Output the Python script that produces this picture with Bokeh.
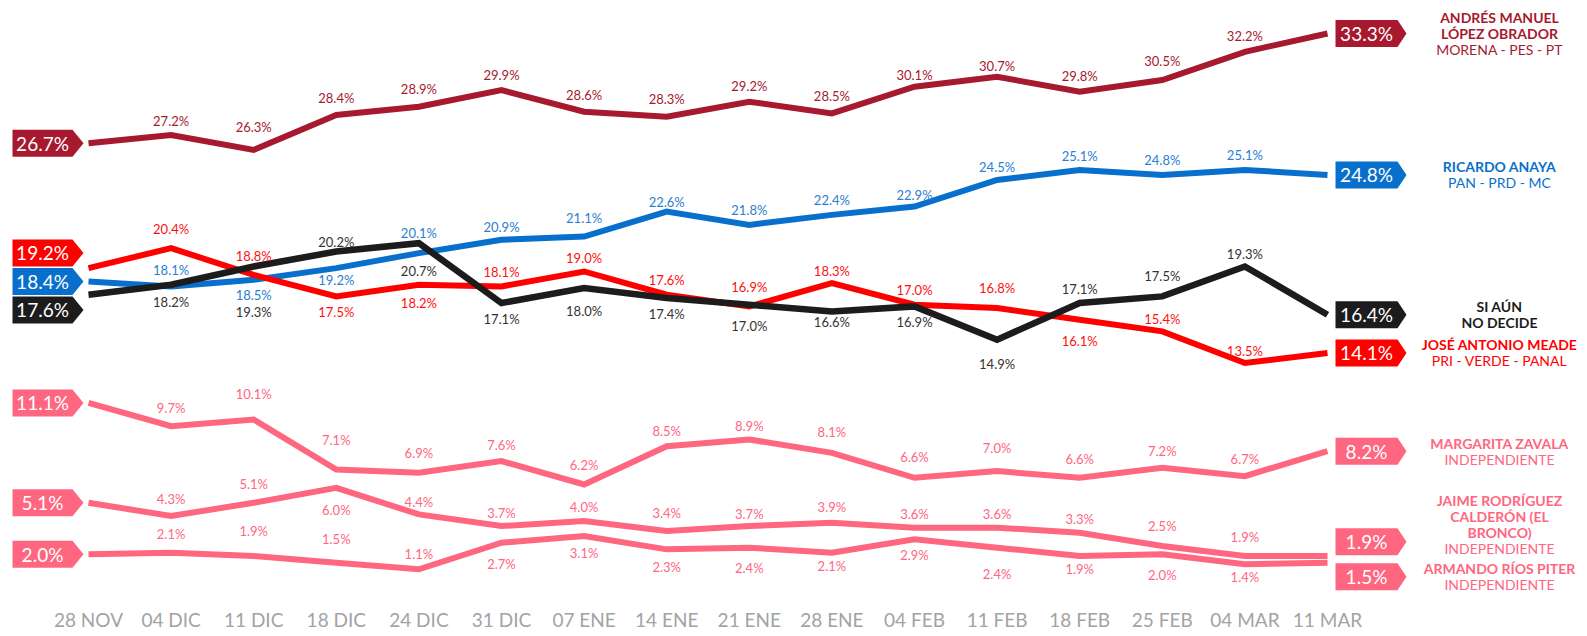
from bokeh.plotting import figure
from bokeh.models import Range1d
from bokeh.core.properties import value
from bokeh.embed import file_html
from bokeh.resources import INLINE

# ---------------- data ----------------
dates = ["28 NOV", "04 DIC", "11 DIC", "18 DIC", "24 DIC", "31 DIC", "07 ENE", "14 ENE",
         "21 ENE", "28 ENE", "04 FEB", "11 FEB", "18 FEB", "25 FEB", "04 MAR", "11 MAR"]
amlo = [26.7, 27.2, 26.3, 28.4, 28.9, 29.9, 28.6, 28.3, 29.2, 28.5, 30.1, 30.7, 29.8, 30.5, 32.2, 33.3]
anaya = [18.4, 18.1, 18.5, 19.2, 20.1, 20.9, 21.1, 22.6, 21.8, 22.4, 22.9, 24.5, 25.1, 24.8, 25.1, 24.8]
meade = [19.2, 20.4, 18.8, 17.5, 18.2, 18.1, 19.0, 17.6, 16.9, 18.3, 17.0, 16.8, 16.1, 15.4, 13.5, 14.1]
no_decide = [17.6, 18.2, 19.3, 20.2, 20.7, 17.1, 18.0, 17.4, 17.0, 16.6, 16.9, 14.9, 17.1, 17.5, 19.3, 16.4]
zavala = [11.1, 9.7, 10.1, 7.1, 6.9, 7.6, 6.2, 8.5, 8.9, 8.1, 6.6, 7.0, 6.6, 7.2, 6.7, 8.2]
bronco = [5.1, 4.3, 5.1, 6.0, 4.4, 3.7, 4.0, 3.4, 3.7, 3.9, 3.6, 3.6, 3.3, 2.5, 1.9, 1.9]
rios = [2.0, 2.1, 1.9, 1.5, 1.1, 2.7, 3.1, 2.3, 2.4, 2.1, 2.9, 2.4, 1.9, 2.0, 1.4, 1.5]

names = {
    "amlo": ["ANDRÉS MANUEL", "LÓPEZ OBRADOR"],
    "anaya": ["RICARDO ANAYA"],
    "nd": ["SI AÚN", "NO DECIDE"],
    "meade": ["JOSÉ ANTONIO MEADE"],
    "zavala": ["MARGARITA ZAVALA"],
    "bronco": ["JAIME RODRÍGUEZ", "CALDERÓN (EL", "BRONCO)"],
    "rios": ["ARMANDO RÍOS PITER"],
}
parties = {
    "amlo": "MORENA - PES - PT",
    "anaya": "PAN - PRD - MC",
    "nd": "",
    "meade": "PRI - VERDE - PANAL",
    "zavala": "INDEPENDIENTE",
    "bronco": "INDEPENDIENTE",
    "rios": "INDEPENDIENTE",
}

# ---------------- styles ----------------
PINK = "#ff6680"
styles = {
    "amlo": dict(color="#a6192e", label="#a6192e"),
    "anaya": dict(color="#0870cc", label="#2a80d2"),
    "meade": dict(color="#ff0000", label="#ff1010"),
    "nd": dict(color="#1c1c1c", label="#333333"),
    "zavala": dict(color=PINK, label=PINK),
    "bronco": dict(color=PINK, label=PINK),
    "rios": dict(color=PINK, label=PINK),
}
# label offsets in px (positive = above the line), for points 1..14
offsets = {
    "amlo": [14, 23, 17, 18, 15, 17, 18, 16, 17, 12, 11, 16, 19, 16],
    "anaya": [16, -15, -12, 20, 13, 19, 10, 15, 15, 12, 13, 14, 15, 15],
    "meade": [19, 19, -16, -18, 14, 13, 15, 19, 12, 15, 20, -21, 12, 12],
    "nd": [-17, -46, 9, -28, -16, -23, -16, -21, -11, -16, -24, 14, 20, 12],
    "zavala": [18, 26, 29, 20, 16, 19, 15, 14, 21, 21, 23, 19, 17, 17],
    "bronco": [17, 19, -22, 12, 13, 14, 18, 12, 16, 14, 14, 14, 20, 19],
    "rios": [19, 25, 24, 15, -21, -17, -18, -20, -13, -16, -26, -13, -21, -13],
}
series = {"amlo": amlo, "anaya": anaya, "meade": meade, "nd": no_decide,
          "zavala": zavala, "bronco": bronco, "rios": rios}
draw_order = ["rios", "bronco", "zavala", "anaya", "meade", "nd", "amlo"]

W, H = 1587, 636
KX = 82.6                       # px per week step
KY = 16.64                      # px per percentage point
X0 = -88 / KX
X1 = X0 + W / KX
Y1 = 33.3 + 33 / KY
Y0 = Y1 - H / KY
DATE_Y = Y1 - 619 / KY          # baseline row for the date labels

p = figure(width=W, height=H, output_backend="svg", toolbar_location=None,
           x_range=Range1d(X0, X1), y_range=Range1d(Y0, Y1),
           x_axis_location=None, y_axis_location=None, min_border=0)
p.outline_line_color = None
p.xgrid.grid_line_color = None
p.ygrid.grid_line_color = None
p.background_fill_color = "white"

xs = list(range(len(dates)))

# date labels (category row under the chart)
p.text(xs, [DATE_Y] * len(xs), text=dates, text_font=value("Lato"),
       text_font_size="19px", text_color="#a3a3a3",
       text_align="center", text_baseline="middle")

for key in draw_order:
    vals = series[key]
    st = styles[key]
    p.line(xs, vals, line_color=st["color"], line_width=6.5 if key == "nd" else 6,
           line_join="miter")

# point labels
for key in draw_order:
    vals = series[key]
    st = styles[key]
    lx = xs[1:-1]
    ly = [v + o / KY for v, o in zip(vals[1:-1], offsets[key])]
    lt = [f"{v:.1f}%" for v in vals[1:-1]]
    p.text(lx, ly, text=lt, text_font=value("Lato"), text_font_size="13px",
           text_color=st["label"], text_align="center", text_baseline="middle")


def spread(vals, gap):
    order = sorted(range(len(vals)), key=lambda i: -vals[i])
    groups = [[i] for i in order]

    def layout(g):
        c = sum(vals[m] for m in g) / len(g)
        return [c + gap * ((len(g) - 1) / 2 - j) for j in range(len(g))]

    merged = True
    while merged:
        merged = False
        for a in range(len(groups) - 1):
            la, lb = layout(groups[a]), layout(groups[a + 1])
            if la[-1] - lb[0] < gap - 1e-9:
                groups[a] = groups[a] + groups[a + 1]
                del groups[a + 1]
                merged = True
                break
    out = [0.0] * len(vals)
    for g in groups:
        for m, y in zip(g, layout(g)):
            out[m] = y
    return out


keys = ["amlo", "anaya", "nd", "meade", "zavala", "bronco", "rios"]
HALF = 13.5 / KY


def tag(side, xi, yc):
    if side == "left":
        xl, xr, xt = xi - 76 / KX, xi - 16 / KX, xi - 5 / KX
    else:
        xl, xr, xt = xi + 8 / KX, xi + 70 / KX, xi + 79 / KX
    px = [xl, xr, xt, xr, xl]
    py = [yc - HALF, yc - HALF, yc, yc + HALF, yc + HALF]
    return px, py, (xl + xr) / 2


for side, idx, gap_px in (("left", 0, 28.5), ("right", len(dates) - 1, 35)):
    vals = [series[k][idx] for k in keys]
    ys = spread(vals, gap_px / KY)
    pxs, pys, tx, cols, txts = [], [], [], [], []
    for k, v, y in zip(keys, vals, ys):
        a, b, c = tag(side, xs[idx], y)
        pxs.append(a)
        pys.append(b)
        tx.append(c)
        cols.append(styles[k]["color"])
        txts.append(f"{v:.1f}%")
    p.patches(pxs, pys, fill_color=cols, line_color=None)
    p.text(tx, ys, text=txts, text_font=value("Lato"), text_font_size="19px",
           text_color="white", text_align="center", text_baseline="middle")
    if side == "right":
        LINE = 16 / KY
        blocks = []
        for k, y in zip(keys, ys):
            lines = [(t, "bold") for t in names[k]]
            if parties[k]:
                lines.append((parties[k], "normal"))
            n = len(lines)
            top = y + LINE * (n - 1) / 2
            blocks.append([k, lines, top])
        for i in range(len(blocks) - 2, -1, -1):
            k, lines, top = blocks[i]
            bottom = top - LINE * (len(lines) - 1)
            nxt_top = blocks[i + 1][2]
            limit = nxt_top + 20 / KY
            if bottom < limit:
                blocks[i][2] = top + (limit - bottom)
        NX = xs[idx] + 172 / KX
        for k, lines, top in blocks:
            for j, (t, w) in enumerate(lines):
                p.text([NX], [top - j * LINE], text=[t], text_font=value("Lato"),
                       text_font_size="14px", text_font_style=w,
                       text_color=styles[k]["color"] if k != "nd" else "#1c1c1c",
                       text_align="center", text_baseline="middle")

open("out.html", "w").write(file_html(p, INLINE))
